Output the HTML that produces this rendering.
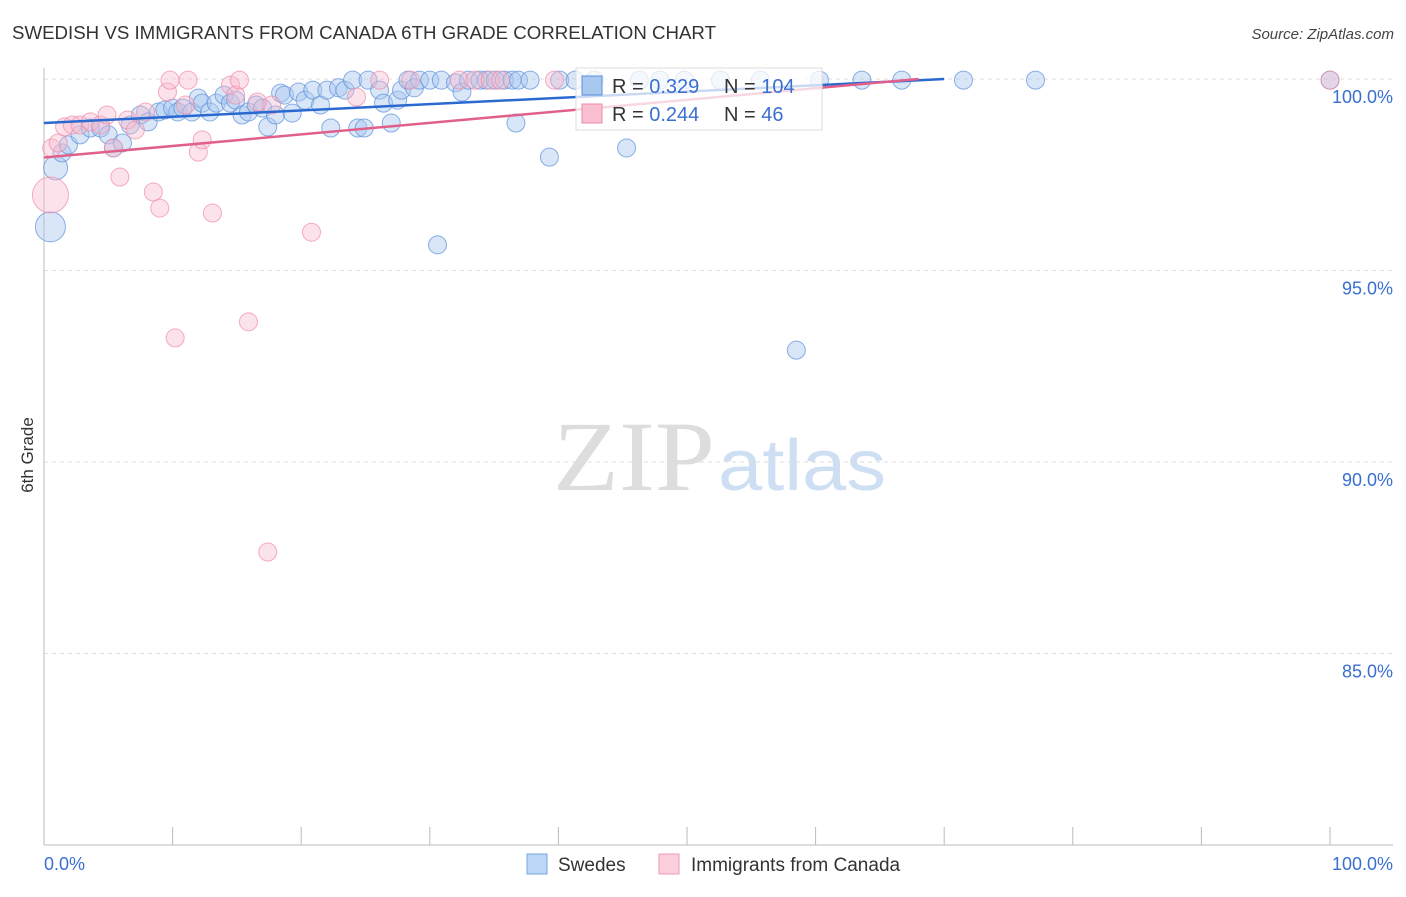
<!DOCTYPE html>
<html><head><meta charset="utf-8"><style>
body{margin:0;background:#fff;font-family:"Liberation Sans",sans-serif;}
</style></head><body>
<svg id="chart" width="1406" height="892" xmlns="http://www.w3.org/2000/svg" font-family="Liberation Sans, sans-serif">
<text x="12" y="39" font-size="18" fill="#333" textLength="704" lengthAdjust="spacingAndGlyphs">SWEDISH VS IMMIGRANTS FROM CANADA 6TH GRADE CORRELATION CHART</text>
<text x="1394" y="39" font-size="15" fill="#444" text-anchor="end" font-style="italic">Source: ZipAtlas.com</text>
<text transform="translate(33,455) rotate(-90)" font-size="17" fill="#333" text-anchor="middle">6th Grade</text>
<g>
<text x="553" y="490" font-size="100" fill="#ddd" style="font-family:'Liberation Serif',serif" textLength="162" lengthAdjust="spacingAndGlyphs">ZIP</text>
<text x="718" y="490" font-size="72" fill="#cfdff3" textLength="168" lengthAdjust="spacingAndGlyphs">atlas</text>
</g>
<g id="grid"></g>
<g id="axes"></g>
<g id="marks"></g>
<g id="trends"></g>
<g>
<rect x="576" y="68" width="246" height="62" fill="#fff" fill-opacity="0.75" stroke="#ddd"/>
<rect x="582" y="76" width="20" height="19" fill="#a8c8f0" stroke="#5b8fd8"/>
<rect x="582" y="104" width="20" height="19" fill="#f8c0d0" stroke="#ee8aa8"/>
<text x="612" y="93" font-size="20" fill="#333">R = <tspan fill="#3a6fd0">0.329</tspan></text>
<text x="724" y="93" font-size="20" fill="#333">N = <tspan fill="#3a6fd0">104</tspan></text>
<text x="612" y="121" font-size="20" fill="#333">R = <tspan fill="#3a6fd0">0.244</tspan></text>
<text x="724" y="121" font-size="20" fill="#333">N = <tspan fill="#3a6fd0"> 46</tspan></text>
</g>
<g>
<rect x="527" y="854" width="20" height="20" fill="#bcd6f5" stroke="#7aa6e0"/>
<text x="558" y="871" font-size="19" fill="#333">Swedes</text>
<rect x="659" y="854" width="20" height="20" fill="#fbd0dc" stroke="#ee9ab4"/>
<text x="691" y="871" font-size="19" fill="#333">Immigrants from Canada</text>
</g>
</svg>
<script>
const blueX=[0.5,0.9,1.4,1.9,2.8,3.6,4.4,5.0,5.4,6.1,6.7,7.5,8.1,8.9,9.4,10.0,10.4,10.8,11.5,12.0,12.3,12.9,13.4,14.0,14.5,14.9,15.4,15.9,16.5,17.0,17.4,18.0,18.4,18.7,19.3,19.8,20.3,20.9,21.5,22.0,22.3,22.9,23.4,24.0,24.4,24.9,25.2,26.1,26.4,27.0,27.5,27.8,28.3,28.8,29.2,30.0,30.6,30.9,32.0,32.5,33.0,33.9,34.4,35.1,35.8,36.4,36.9,37.8,36.7,39.3,40.1,41.3,42.8,45.3,46.3,47.9,49.8,52.6,55.7,58.5,60.3,63.6,66.7,71.5,77.1,100];
const blueY=[96.14,97.68,98.07,98.28,98.54,98.72,98.72,98.54,98.2,98.33,98.8,99.06,98.88,99.14,99.19,99.24,99.14,99.24,99.14,99.5,99.37,99.14,99.37,99.58,99.37,99.45,99.06,99.14,99.32,99.24,98.75,99.06,99.63,99.58,99.11,99.66,99.45,99.71,99.32,99.71,98.72,99.77,99.71,99.97,98.72,98.72,99.97,99.71,99.37,98.85,99.45,99.71,99.97,99.77,99.97,99.97,95.67,99.97,99.9,99.66,99.97,99.97,99.97,99.97,99.97,99.97,99.97,99.97,98.85,97.96,99.97,99.97,99.97,98.2,99.97,99.97,99.97,99.97,99.97,92.92,99.97,99.97,99.97,99.97,99.97,99.97];
const pinkX=[0.5,0.6,1.1,1.6,2.2,2.8,3.6,4.4,4.9,5.4,5.9,6.5,7.1,7.9,8.5,9.0,9.6,9.8,10.2,11.0,11.2,12.0,12.3,13.1,14.5,14.9,15.2,15.9,16.6,17.4,17.7,20.8,24.3,26.1,28.5,32.3,33.5,34.7,35.5,39.7,100];
const pinkY=[96.97,98.2,98.33,98.75,98.8,98.8,98.88,98.8,99.06,98.2,97.44,98.93,98.67,99.14,97.05,96.63,99.66,99.97,93.24,99.32,99.97,98.09,98.41,96.5,99.84,99.58,99.97,93.66,99.4,87.65,99.32,96.0,99.53,99.97,99.97,99.97,99.97,99.97,99.97,99.97,99.97];
const blueTrend=[0,98.85,70,100];
const pinkTrend=[0,97.95,68,100];
const yTicks=[100,95,90,85];
const yTickLabels=["100.0%","95.0%","90.0%","85.0%"];
const xTickVals=[0,10,20,30,40,50,60,70,80,90,100];

const NS="http://www.w3.org/2000/svg";
const X=v=>44+v*12.86;
const Y=v=>79+(100-v)*38.3;
function mk(tag,attrs,parent){const e=document.createElementNS(NS,tag);for(const k in attrs)e.setAttribute(k,attrs[k]);document.getElementById(parent).appendChild(e);return e;}
yTicks.forEach((t,i)=>{
 const l=mk('line',{x1:44,x2:1393,y1:Y(t),y2:Y(t),stroke:'#ddd','stroke-dasharray':'4,4'},'grid');
 
 
 const tx=mk('text',{x:1393,y:Y(t)+24,'font-size':18,fill:'#3a6fd0','text-anchor':'end'},'grid');
 tx.textContent=yTickLabels[i];
 
 
});
const ya=mk('line',{x1:44,x2:44,y1:68,y2:845,stroke:'#bbb'},'axes');


const xa=mk('line',{x1:44,x2:1393,y1:845,y2:845,stroke:'#bbb'},'axes');


xTickVals.forEach(v=>{
 const t=mk('line',{x1:X(v),x2:X(v),y1:827,y2:845,stroke:'#bbb'},'axes');
 
 
});
const xl0=mk('text',{x:44,y:870,'font-size':18,fill:'#3a6fd0'},'axes');xl0.textContent='0.0%';


const xl1=mk('text',{x:1393,y:870,'font-size':18,fill:'#3a6fd0','text-anchor':'end'},'axes');xl1.textContent='100.0%';


blueX.forEach((v,i)=>{
 const c=mk('circle',{cx:X(v),cy:Y(blueY[i]),r:i<2?(i==0?15:12):9,fill:'#a8c8f0','fill-opacity':0.45,stroke:'#5b8fd8','stroke-opacity':0.7},'marks');
 
 
});
pinkX.forEach((v,i)=>{
 const c=mk('circle',{cx:X(v),cy:Y(pinkY[i]),r:i==0?18:9,fill:'#f8b8cc','fill-opacity':0.4,stroke:'#ee8aa8','stroke-opacity':0.7},'marks');
 
 
});
const bl=mk('line',{x1:X(blueTrend[0]),y1:Y(blueTrend[1]),x2:X(blueTrend[2]),y2:Y(blueTrend[3]),stroke:'#2a6ad0','stroke-width':2.5},'trends');


const pl=mk('line',{x1:X(pinkTrend[0]),y1:Y(pinkTrend[1]),x2:X(pinkTrend[2]),y2:Y(pinkTrend[3]),stroke:'#e0608a','stroke-width':2.5},'trends');


</script>
</body></html>
